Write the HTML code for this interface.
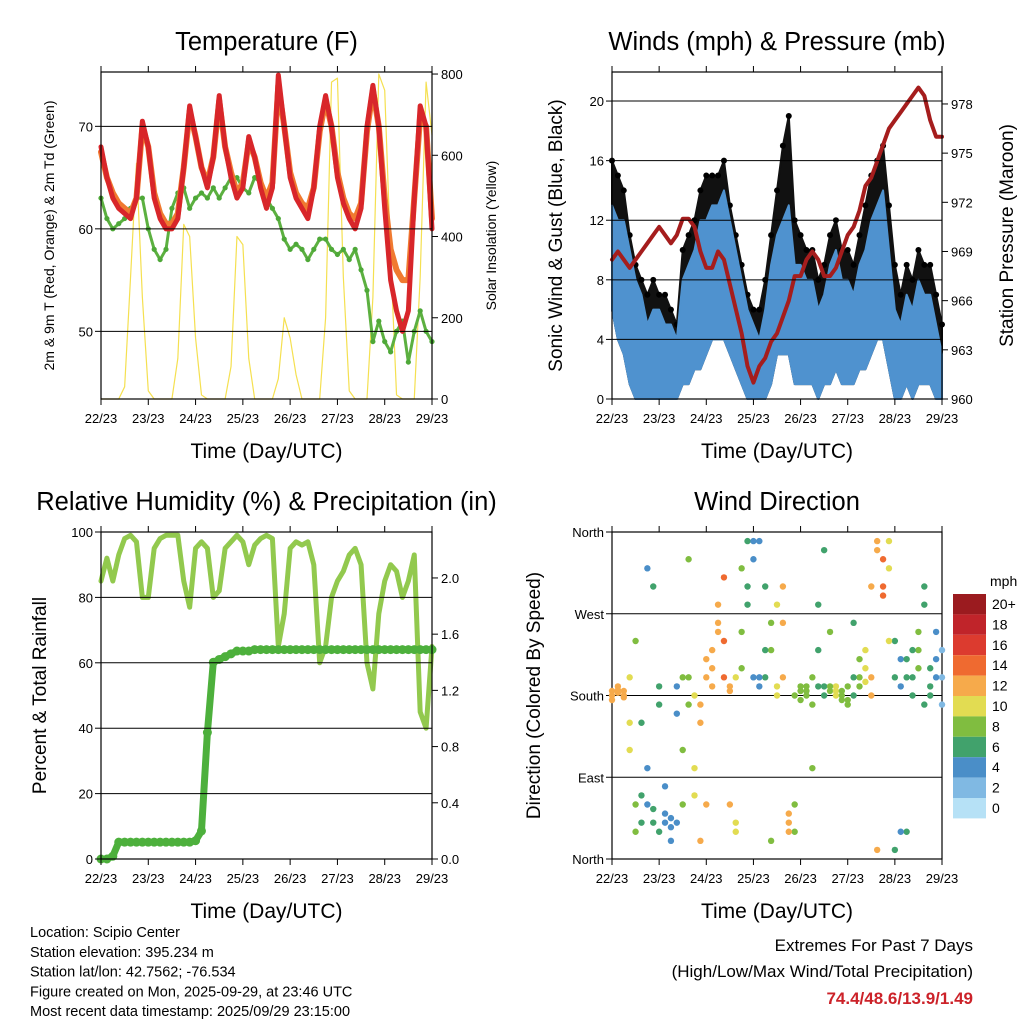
<!DOCTYPE html>
<html><head><meta charset="utf-8"><style>
html,body{margin:0;padding:0;background:#fff}
svg{display:block;font-family:"Liberation Sans",sans-serif}
</style></head><body>
<svg id="chart" width="1024" height="1024" viewBox="0 0 1024 1024" xmlns="http://www.w3.org/2000/svg">
<rect width="1024" height="1024" fill="#fff"/>
</svg>
<script>
// ---- data (3-hour samples over 7 days) ----
const xTickLabels = ["22/23","23/23","24/23","25/23","26/23","27/23","28/23","29/23"];
const temp2m = [68,65,63,62,61.5,61,63,70.5,68,63,61,60,60,61,66,72,69,66,64,67,73,68,65,63,64,69,67,64,62,64,75,70,65,63,62,61,64,70,73,70,65,62.5,61,60,62,70,74,70,62,55,52,50,52,63,72,70,60];
const temp9m = [67.5,65,63.5,62.5,62,61.5,63,70,68,63.5,61.5,60.5,60.5,61.5,66,71.5,69,66,64.5,67,72.5,68,65.5,63.5,64.5,68.5,67,64.5,63,64.5,74,70,65.5,63.5,62.5,62,64,69.5,72.5,70,65.5,63,61.5,61,62.5,69.5,73.5,70,63,58,56,55,55,63,71,70,61];
const dewpoint = [63,61,60,60.5,61,62,63,63,60,58,57,58,62,63.5,64,62,63,63.5,63,64,63,64,65,65,64,63.5,65,64.5,63,62,61,59,58,58.5,58,57,58,59,59,58,57.5,58,57,58,56,54,49,51,49,48,50,51,47,50,52,50,49];
const solar = [0,0,0,0,30,300,580,250,20,0,0,0,0,100,430,400,150,10,0,0,0,0,80,400,380,100,0,0,0,0,50,200,150,60,0,0,0,0,200,780,790,300,20,0,0,0,250,800,760,350,10,0,0,0,300,780,650];
const windHi = [13,12,12,10,8,7,5,6,6,5,5,4,8,9,10,12,12,13,13,14,12,10,8,6,5,4,6,9,11,12,13,9,9,8,8,6,7,9,10,8,8,7,9,10,12,13,14,10,6,5,7,6,8,7,7,5,3];
const windLo = [6,4,3,1,0,0,0,0,0,0,0,0,1,1,2,2,3,4,4,4,3,2,1,0,0,0,0,1,3,3,3,1,1,1,1,0,1,1,2,1,1,1,2,2,3,4,4,2,0,0,1,0,1,1,1,0,0];
const gust = [16,15,14,11,9,8,7,8,7,7,6,5,10,11,12,14,15,15,15,16,13,11,9,7,6,6,8,11,14,17,19,12,11,10,10,8,9,11,12,10,10,9,11,13,15,16,17,13,9,7,9,8,10,9,9,7,5];
const pressure = [968.5,969,968.5,968,968.5,969,969.5,970,970.5,970,969.5,970,971,971,970.5,969,968,968,969,968.5,967,965.5,964,962,961,962,962.5,963.5,964,965,966,967.5,967.5,968.5,969,968.5,967.5,967.5,968,969,970,970.5,971.5,973,973.5,974.5,975.5,976.5,977,977.5,978,978.5,979,978.5,977,976,976];
const rh = [85,92,85,93,98,99,97,80,80,95,98,99,99,99,85,77,95,97,95,80,82,95,97,99,97,90,96,98,99,98,65,75,95,97,96,97,90,60,65,80,85,88,93,95,90,60,52,75,85,90,88,80,85,93,45,40,65];
const precip = [0,0,0.02,0.12,0.12,0.12,0.12,0.12,0.12,0.12,0.12,0.12,0.12,0.12,0.12,0.12,0.13,0.2,0.9,1.4,1.42,1.44,1.46,1.48,1.48,1.48,1.49,1.49,1.49,1.49,1.49,1.49,1.49,1.49,1.49,1.49,1.49,1.49,1.49,1.49,1.49,1.49,1.49,1.49,1.49,1.49,1.49,1.49,1.49,1.49,1.49,1.49,1.49,1.49,1.49,1.49,1.49];
const dirA = [185,183,180,200,240,150,100,40,30,50,45,40,200,330,180,150,60,210,250,200,185,40,250,300,330,350,200,230,280,300,50,30,190,180,170,280,190,185,180,175,190,260,200,210,180,10,330,350,240,220,200,180,250,170,210,220,200];
const dirB = [175,190,185,120,60,70,320,55,170,80,20,160,120,170,100,20,200,230,280,310,60,200,320,350,200,200,300,20,180,260,30,180,175,185,100,190,340,250,190,180,170,200,220,230,300,340,290,240,10,190,30,200,230,300,180,250,170];
const dirC = [180,186,178,150,30,40,60,300,190,40,35,190,60,200,70,170,220,190,260,240,190,30,210,280,350,190,230,260,190,200,40,60,185,190,200,230,180,190,185,185,175,180,190,195,200,350,300,320,200,30,220,230,210,280,190,200,230];
const speedLabels = ["20+","18","16","14","12","10","8","6","4","2","0"];
const speedColors = ["#9b1b1f","#c0242a","#dc3b2f","#ef6a30","#f6aa4b","#e2dc52","#80bd40","#41a26c","#4a8ec8","#80b9e3","#b6e1f6"];
const tempTicks = [50,60,70], solarTicks=[0,200,400,600,800];
const windTicks=[0,4,8,12,16,20], presTicks=[960,963,966,969,972,975,978];
const rhTicks=[0,20,40,60,80,100], prTicks=[0,0.4,0.8,1.2,1.6,2.0];
const dirTicks=[0,90,180,270,360], dirLabels=["North","East","South","West","North"];

const svg = document.getElementById('chart');
const NS='http://www.w3.org/2000/svg';
function mk(tag, attrs, parent){const n=document.createElementNS(NS,tag);for(const k in attrs)n.setAttribute(k,attrs[k]);(parent||svg).appendChild(n);return n;}
function txt(s, attrs, parent){const n=mk('text',attrs,parent);n.textContent=s;return n;}

function panel(P){
  P.sx=h=>P.x0+h/168*(P.x1-P.x0);
  P.syL=v=>P.y1-(v-P.lmin)/(P.lmax-P.lmin)*(P.y1-P.y0);
  P.syR=v=>P.y1-(v-P.rmin)/(P.rmax-P.rmin)*(P.y1-P.y0);
  const g=mk('g',{});
  
  
  P.g=g;
  return P;
}
function frame(P){
  const g=P.g;
  P.lt.forEach((v,i)=>{
    const y=P.syL(v);
    if(v>P.lmin&&v<P.lmax){const l=mk('line',{x1:P.x0,x2:P.x1,y1:y,y2:y,stroke:'#000','stroke-width':1},g);
    
    }
    mk('line',{x1:P.x0-6,x2:P.x0,y1:y,y2:y,stroke:'#000'},g);
    const t=txt(P.ll?P.ll[i]:String(v),{x:P.x0-8,y:y+5,'font-size':13,'text-anchor':'end'},g);
    
    
  });
  if(P.rt)P.rt.forEach(v=>{
    const y=P.syR(v);
    mk('line',{x1:P.x1,x2:P.x1+6,y1:y,y2:y,stroke:'#000'},g);
    const t=txt(P.rfmt?v.toFixed(1):String(v),{x:P.x1+9,y:y+5,'font-size':13},g);
    
    
  });
  xTickLabels.forEach((s,i)=>{
    const x=P.sx(i*24);
    mk('line',{x1:x,x2:x,y1:P.y1,y2:P.y1+6,stroke:'#000'},g);
    mk('line',{x1:x,x2:x,y1:P.y0-6,y2:P.y0,stroke:'#000'},g);
    const t=txt(s,{x:x,y:P.y1+24,'font-size':13,'text-anchor':'middle'},g);
    
    
  });
  const r=mk('rect',{x:P.x0,y:P.y0,width:P.x1-P.x0,height:P.y1-P.y0,fill:'none',stroke:'#000','stroke-width':1.2},g);
  
  
  const t=txt(P.title,{x:(P.x0+P.x1)/2,y:P.y0-22,'font-size':25.5,'text-anchor':'middle'},g);
  
  
  const xl=txt('Time (Day/UTC)',{x:(P.x0+P.x1)/2,y:P.y1+59,'font-size':21,'text-anchor':'middle'},g);
  
  
  const yc=(P.y0+P.y1)/2;
  const yl=txt(P.ylab,{x:P.ylx,y:yc,'font-size':P.yls,'text-anchor':'middle',transform:`rotate(-90 ${P.ylx} ${yc})`},g);
  
  
  if(P.rlab){const rl=txt(P.rlab,{x:P.rlx,y:yc,'font-size':P.rls,'text-anchor':'middle',transform:`rotate(-90 ${P.rlx} ${yc})`},g);
  
  }
}
function pts(P,arr,right){const st=168/(arr.length-1);return arr.map((v,i)=>[P.sx(i*st),right?P.syR(v):P.syL(v)]);}
function line(P,arr,right,color,w,name){
  const p=mk('polyline',{points:pts(P,arr,right).map(a=>a.join(',')).join(' '),fill:'none',stroke:color,'stroke-width':w,'stroke-linejoin':'round','stroke-linecap':'round'},P.g);
  
  
  return p;
}
function band(P,lo,hi,color,name){
  const a=pts(P,hi,false), b=pts(P,lo,false).reverse();
  const p=mk('polygon',{points:a.concat(b).map(q=>q.join(',')).join(' '),fill:color,stroke:color,'stroke-width':2,'stroke-linejoin':'round'},P.g);
  
  
}
function colorFor(s){let i=Math.min(10,Math.floor(s/2));return speedColors[10-i];}

// Panel 1 temperature
const P1=panel({name:'temperature-panel',x0:101,x1:432,y0:72,y1:399,lmin:43.4,lmax:75.3,rmin:0,rmax:805,lt:tempTicks,rt:solarTicks,title:'Temperature (F)',ylab:'2m & 9m T (Red, Orange) & 2m Td (Green)',ylx:54,yls:14,rlab:'Solar Insolation (Yellow)',rlx:496,rls:14});
line(P1,solar,true,'#f5e050',1.2,'solar-insolation-line');
line(P1,dewpoint,false,'#5cb040',3,'dewpoint-line');
pts(P1,dewpoint,false).forEach(q=>{const c=mk('circle',{cx:q[0],cy:q[1],r:2.6,fill:'#4ea838'},P1.g);});
line(P1,temp9m,false,'#f07a30',6,'temp-9m-line');
line(P1,temp2m,false,'#d8262a',5,'temp-2m-line');
frame(P1);

// Panel 2 winds
const P2=panel({name:'winds-panel',x0:612,x1:942,y0:72,y1:399,lmin:0,lmax:21.95,rmin:960,rmax:979.95,lt:windTicks,rt:presTicks,title:'Winds (mph) & Pressure (mb)',ylab:'Sonic Wind & Gust (Blue, Black)',ylx:562,yls:19,rlab:'Station Pressure (Maroon)',rlx:1013,rls:19});
band(P2,windLo,gust,'#111','gust-band');
pts(P2,gust,false).forEach(q=>{const c=mk('circle',{cx:q[0],cy:q[1],r:3,fill:'#000'},P2.g);});
band(P2,windLo,windHi,'#4f92cf','sonic-wind-band');
line(P2,pressure,true,'#a51d1d',4,'pressure-line');
frame(P2);

// Panel 3 RH & precip
const P3=panel({name:'humidity-precip-panel',x0:101,x1:432,y0:532,y1:859,lmin:0,lmax:100,rmin:0,rmax:2.327,lt:rhTicks,rt:prTicks,rfmt:true,title:'Relative Humidity (%) & Precipitation (in)',ylab:'Percent & Total Rainfall',ylx:46,yls:19});
line(P3,rh,false,'#92c94e',5,'humidity-line');
pts(P3,precip,true).forEach(q=>{const c=mk('circle',{cx:q[0],cy:q[1],r:4.5,fill:'#4db03c'},P3.g);});
line(P3,precip,true,'#4db03c',7,'precip-line');
frame(P3);

// Panel 4 wind direction
const P4=panel({name:'wind-direction-panel',x0:612,x1:942,y0:532,y1:859,lmin:0,lmax:360,rmin:0,rmax:1,lt:dirTicks,ll:dirLabels,title:'Wind Direction',ylab:'Direction (Colored By Speed)',ylx:540,yls:19});
frame(P4);
[dirA,dirB,dirC].forEach(arr=>{
  pts(P4,arr,false).forEach((q,i)=>{
    const c=mk('circle',{cx:q[0],cy:q[1],r:3.2,fill:colorFor(windHi[i])},P4.g);
    
    
  });
});
// colorbar
const cb=mk('g',{});


const cbt=txt('mph',{x:990,y:586,'font-size':14,'text-anchor':'start'},cb);


speedColors.forEach((c,i)=>{
  const y=594+i*20.4;
  const r=mk('rect',{x:953,y:y,width:33,height:20.4,fill:c},cb);
  
  
  const t=txt(speedLabels[i],{x:992,y:y+15,'font-size':14},cb);
  
  
});

// footer
const foot=["Location: Scipio Center","Station elevation: 395.234 m","Station lat/lon: 42.7562; -76.534","Figure created on Mon, 2025-09-29, at 23:46 UTC","Most recent data timestamp: 2025/09/29 23:15:00"];
foot.forEach((s,i)=>{const t=txt(s,{x:30,y:937+i*19.8,'font-size':14.5});});
const e1=txt('Extremes For Past 7 Days',{x:973,y:951,'font-size':17,'text-anchor':'end'});


const e2=txt('(High/Low/Max Wind/Total Precipitation)',{x:973,y:977,'font-size':17,'text-anchor':'end'});


const e3=txt('74.4/48.6/13.9/1.49',{x:973,y:1004,'font-size':17,'font-weight':'bold',fill:'#cc2229','text-anchor':'end'});


</script>
</body></html>
